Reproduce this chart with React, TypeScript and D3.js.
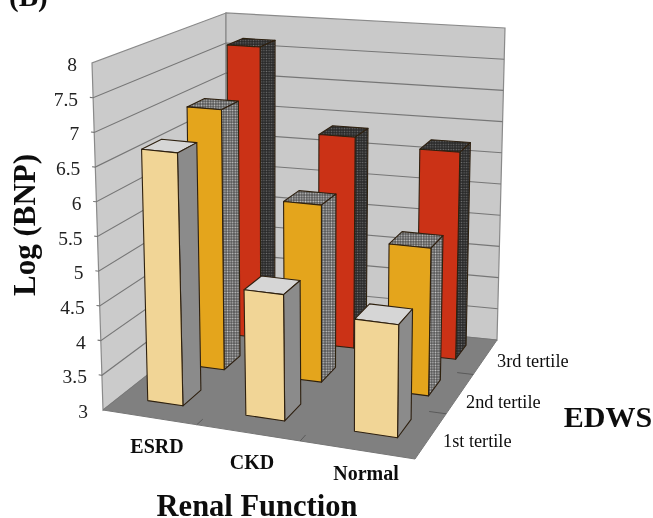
import * as d3 from "d3";

const categories = ["ESRD", "CKD", "Normal"];
const tertiles = ["1st tertile", "2nd tertile", "3rd tertile"];
const yTicks = [3, 3.5, 4, 4.5, 5, 5.5, 6, 6.5, 7, 7.5, 8];
const firstTertile = [6.67, 4.8, 4.58];
const secondTertile = [6.97, 5.66, 5.18];
const thirdTertile = [7.66, 6.33, 6.22];
const seriesValues = [firstTertile, secondTertile, thirdTertile];

type Pt = [number, number];

// corners of the box as they land on the page: front-left, front-right, back-right, back-left
const floorQuad: Pt[] = [[103, 410], [415, 459], [497, 340], [226, 313]];
const topQuad: Pt[] = [[92, 63], [420, 92], [505, 28], [226, 13]];

function homography(q: Pt[]) {
  const [[x0, y0], [x1, y1], [x2, y2], [x3, y3]] = q;
  const dx1 = x1 - x2, dx2 = x3 - x2, sx = x0 - x1 + x2 - x3;
  const dy1 = y1 - y2, dy2 = y3 - y2, sy = y0 - y1 + y2 - y3;
  const den = dx1 * dy2 - dx2 * dy1;
  const g = (sx * dy2 - dx2 * sy) / den;
  const h = (dx1 * sy - sx * dy1) / den;
  const a = x1 - x0 + g * x1, b = x3 - x0 + h * x3;
  const d = y1 - y0 + g * y1, e = y3 - y0 + h * y3;
  return (u: number, v: number): Pt => {
    const w = g * u + h * v + 1;
    return [(a * u + b * v + x0) / w, (d * u + e * v + y0) / w];
  };
}

const floorAt = homography(floorQuad);
const topAt = homography(topQuad);

const yScale = d3.scaleLinear().domain([3, 8]).range([0, 1]);
const xBand = d3.scaleBand<string>().domain(categories).range([0, 1.02]).paddingInner(0.63).paddingOuter(0.3);
const zBand = d3.scaleBand<string>().domain(tertiles).range([0.02, 1.02]).paddingInner(0.58).paddingOuter(0.3);
const labelRight = d3.scaleLinear().domain([3, 8]).range([88, 77]);

// u across the front, v into the depth, val on the value axis
function project(u: number, v: number, val: number): Pt {
  const t = yScale(val);
  const f = floorAt(u, v);
  const p = topAt(u, v);
  return [f[0] + (p[0] - f[0]) * t, f[1] + (p[1] - f[1]) * t];
}

const poly = (pts: Pt[]) => d3.line()(pts) + "Z";

const styles = [
  { front: "#f1d596", side: "#8b8b8b", top: "#d6d6d6" },
  { front: "#e4a51f", side: "url(#dotsMid)", top: "url(#dotsMid)" },
  { front: "#cb3116", side: "url(#dotsDark)", top: "url(#dotsDark)" },
];

const serif = "'Liberation Serif', serif";

function Bar({ cat, ti }: { cat: number; ti: number }) {
  const u0 = xBand(categories[cat])!;
  const u1 = u0 + xBand.bandwidth();
  const v0 = zBand(tertiles[ti])!;
  const v1 = v0 + zBand.bandwidth();
  const val = seriesValues[ti][cat];
  const s = styles[ti];
  const edge = { stroke: "#2e2010", strokeWidth: 1.1, strokeLinejoin: "round" as const };
  return (
    <g>
      <path d={poly([project(u0, v0, val), project(u1, v0, val), project(u1, v1, val), project(u0, v1, val)])} fill={s.top} {...edge} />
      <path d={poly([project(u1, v0, 3), project(u1, v1, 3), project(u1, v1, val), project(u1, v0, val)])} fill={s.side} {...edge} />
      <path d={poly([project(u0, v0, 3), project(u1, v0, 3), project(u1, v0, val), project(u0, v0, val)])} fill={s.front} {...edge} />
    </g>
  );
}

export default function App() {
  const zOrder = d3.range(tertiles.length).reverse();
  const wallLine = "#8a8a8a";
  return (
    <svg width={653} height={518} style={{ position: "absolute", left: 0, top: 0, background: "#fff" }}>
      <defs>
        <pattern id="dotsMid" width={2.6} height={2.6} patternUnits="userSpaceOnUse">
          <rect width={2.6} height={2.6} fill="#525252" />
          <circle cx={1.3} cy={1.3} r={0.85} fill="#c4c4c4" />
        </pattern>
        <pattern id="dotsDark" width={2.6} height={2.6} patternUnits="userSpaceOnUse">
          <rect width={2.6} height={2.6} fill="#2c2c2c" />
          <circle cx={1.3} cy={1.3} r={0.7} fill="#6f6f6f" />
        </pattern>
        <filter id="soft" x="0" y="0" width="100%" height="100%">
          <feGaussianBlur stdDeviation={0.4} />
        </filter>
      </defs>

      <g filter="url(#soft)">
        {/* walls and floor */}
        <path d={poly([project(0, 0, 3), project(0, 1, 3), project(0, 1, 8), project(0, 0, 8)])} fill="#cbcbcb" stroke={wallLine} strokeWidth={1.2} />
        <path d={poly([project(0, 1, 3), project(1, 1, 3), project(1, 1, 8), project(0, 1, 8)])} fill="#c9c9c9" stroke={wallLine} strokeWidth={1.2} />
        <path d={poly([project(0, 0, 3), project(1, 0, 3), project(1, 1, 3), project(0, 1, 3)])} fill="#808080" stroke="#777" strokeWidth={1} />

        {yTicks.slice(1, -1).map((t) => (
          <path key={t} d={d3.line()([project(-0.012, 0, t), project(0, 0, t), project(0, 1, t), project(1, 1, t)])!} fill="none" stroke="#767676" strokeWidth={1.1} />
        ))}
        {d3.range(1, categories.length).map((i) => (
          <path key={i} d={d3.line()([project(i / 3, 0.045, 3), project(i / 3, 0, 3)])!} stroke="#5a5a5a" strokeWidth={1} />
        ))}
        {d3.range(1, tertiles.length).map((i) => (
          <path key={i} d={d3.line()([project(0.95, i / 3, 3), project(1, i / 3, 3)])!} stroke="#5a5a5a" strokeWidth={1} />
        ))}

        {zOrder.map((ti) => categories.map((_, cat) => <Bar key={ti + "-" + cat} cat={cat} ti={ti} />))}

        {/* axis labels */}
        <g fontFamily={serif} fill="#111">
          <text x={9} y={6} fontSize={29} fontWeight="bold">(B)</text>
          <text transform="translate(35,225) rotate(-90)" textAnchor="middle" fontSize={31} fontWeight="bold">Log (BNP)</text>
          <text x={257} y={516} textAnchor="middle" fontSize={30.5} fontWeight="bold">Renal Function</text>
          <text x={608} y={427} textAnchor="middle" fontSize={30} fontWeight="bold">EDWS</text>
          {categories.map((c, i) => (
            <text key={c} x={[157, 252, 366][i]} y={[453, 469, 480][i]} textAnchor="middle" fontSize={20} fontWeight="bold">{c}</text>
          ))}
          {tertiles.map((c, i) => (
            <text key={c} x={[443, 466, 497][i]} y={[447, 408, 367][i]} fontSize={18.3}>{c}</text>
          ))}
        </g>
        <g fontFamily={serif} fill="#222" fontSize={19.5} textAnchor="end">
          {yTicks.map((t) => (
            <text key={t} x={labelRight(t)} y={project(0, 0, t)[1] + 8}>{t}</text>
          ))}
        </g>
      </g>
    </svg>
  );
}
